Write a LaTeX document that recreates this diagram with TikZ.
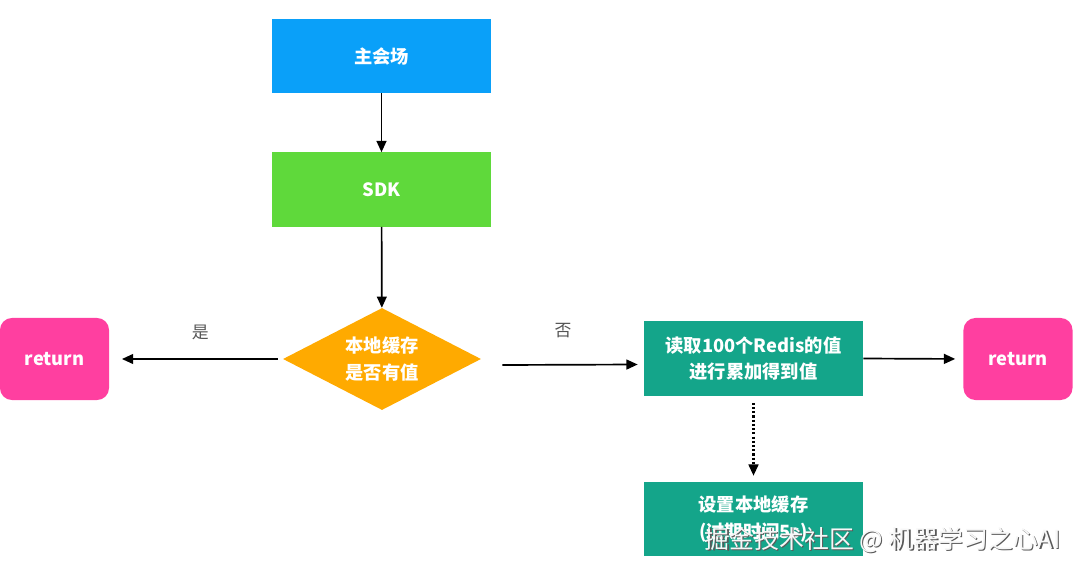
\documentclass[tikz,border=0pt]{standalone}
\usepackage{fontspec}
\setmainfont{Noto Sans CJK SC}
\usetikzlibrary{arrows.meta,shapes.geometric}
\definecolor{mainblue}{HTML}{0AA0F9}
\definecolor{sdkgreen}{HTML}{5FD93B}
\definecolor{checkorange}{HTML}{FFAA00}
\definecolor{stepteal}{HTML}{14A58A}
\definecolor{retpink}{HTML}{FF3FA0}
\definecolor{labelgray}{HTML}{555555}

\begin{document}
\begin{tikzpicture}[x=0.025cm,y=-0.025cm,
   every node/.style={text=white,font=\fontsize{13}{19}\selectfont\bfseries,align=center},
   flowbox/.style={rectangle,minimum width=5.475cm,minimum height=1.85cm,inner sep=0pt},
   retbox/.style={rectangle,rounded corners=0.3cm,fill=retpink,minimum width=2.725cm,minimum height=2.05cm,inner sep=0pt},
   checkbox/.style={diamond,fill=checkorange,aspect=1.94,minimum width=4.95cm,minimum height=2.55cm,inner sep=0pt},
   flow/.style={-{Triangle[length=8pt,width=7pt]},line width=1.2pt},
   branch/.style={text=labelgray,font=\fontsize{12}{14}\selectfont}]
\useasboundingbox (0,0) rectangle (1080,571);
\node[flowbox,fill=mainblue] (venue) at (381.5,56) {主会场};
\node[flowbox,fill=sdkgreen] (sdk) at (381.5,189.5) {SDK};
\node[checkbox] (cache) at (382,359) {本地缓存\\是否有值};
\node[retbox] (retl) at (54.5,359) {return};
\node[flowbox,fill=stepteal] (redis) at (753.5,358.5) {读取100个Redis的值\\进行累加得到值};
\node[retbox] (retr) at (1018,359) {return};
\node[flowbox,fill=stepteal] (setcache) at (753.5,519) {设置本地缓存\\(过期时间5s)};
% connectors
\draw[flow,shorten <=3.5pt,shorten >=9pt] (cache.west) -- (retl.east)
   node[branch,midway,above=10pt,xshift=3pt] {是};
\draw[flow] (venue) -- (sdk);
\draw[flow] (sdk) -- (cache);
\draw[flow] ([xshift=0.525cm,yshift=-0.15cm]cache.east) -- ([xshift=-0.15cm,yshift=-0.15cm]redis.west)
   node[branch,midway,above=15pt,xshift=-5pt] {否};
\draw[flow,shorten >=0.2cm] (redis.east) -- (retr.west);
\draw[flow,line width=1.5pt,dash pattern=on 1.5pt off 1.5pt,shorten <=0.175cm,shorten >=0.15cm] (redis.south) -- (setcache.north);
% watermark
\node[text=gray!70!black,font=\fontsize{17.7}{20}\selectfont] (markshadow) at (884,541.5) {掘金技术社区 @ 机器学习之心AI};
\node[text=white!94!gray,font=\fontsize{17.7}{20}\selectfont] (mark) at (882.5,540) {掘金技术社区 @ 机器学习之心AI};
\end{tikzpicture}
\end{document}
